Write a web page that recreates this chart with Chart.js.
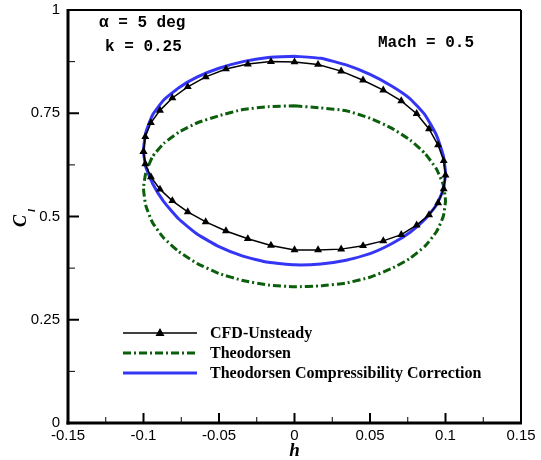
<!DOCTYPE html>
<html lang="en">
<head>
  <meta charset="UTF-8" />
  <title>Cl vs h</title>
  <script src="https://cdn.jsdelivr.net/npm/chart.js"></script>
  <style>
    body { margin: 0; background: #fff; }
    canvas { display: block; }
  </style>
</head>
<body>
  <canvas id="clChart" width="541" height="460"></canvas>

  <script>
    // axis ticks
    const xTicks = [-0.15, -0.1, -0.05, 0, 0.05, 0.1, 0.15];
    const xTickLabels = ['-0.15', '-0.1', '-0.05', '0', '0.05', '0.1', '0.15'];
    const xMinor = [-0.125, -0.075, -0.025, 0.025, 0.075, 0.125];
    const yTicks = [0, 0.25, 0.5, 0.75, 1];
    const yTickLabels = ['0', '0.25', '0.5', '0.75', '1'];
    const yMinor = [0.125, 0.375, 0.625, 0.875];

    // CFD-Unsteady (markers)
    const cfdH = [-0.1000, -0.0988, -0.0951, -0.0891, -0.0809, -0.0707, -0.0588, -0.0454, -0.0309, -0.0156,
                  0.0000, 0.0156, 0.0309, 0.0454, 0.0588, 0.0707, 0.0809, 0.0891, 0.0951, 0.0988,
                  0.1000, 0.0988, 0.0951, 0.0891, 0.0809, 0.0707, 0.0588, 0.0454, 0.0309, 0.0156,
                  0.0000, -0.0156, -0.0309, -0.0454, -0.0588, -0.0707, -0.0809, -0.0891, -0.0951, -0.0988,
                  -0.1000];
    const cfdCl = [0.657, 0.693, 0.727, 0.757, 0.787, 0.814, 0.838, 0.857, 0.869, 0.875,
                   0.874, 0.868, 0.852, 0.830, 0.806, 0.780, 0.749, 0.712, 0.673, 0.635,
                   0.600, 0.567, 0.533, 0.504, 0.479, 0.456, 0.441, 0.429, 0.421, 0.419,
                   0.419, 0.430, 0.446, 0.465, 0.487, 0.511, 0.538, 0.566, 0.596, 0.627,
                   0.657];

    // Theodorsen curves share the same h positions
    const loopH = [0, 0.0174, 0.0342, 0.05, 0.0643, 0.0766, 0.0866, 0.094, 0.0985, 0.1,
                   0.0985, 0.094, 0.0866, 0.0766, 0.0643, 0.05, 0.0342, 0.0174, 0,
                   -0.0174, -0.0342, -0.05, -0.0643, -0.0766, -0.0866, -0.094, -0.0985, -0.1,
                   -0.0985, -0.094, -0.0866, -0.0766, -0.0643, -0.05, -0.0342, -0.0174, 0];
    const theoCl = [0.768, 0.763, 0.756, 0.738, 0.714, 0.685, 0.652, 0.615, 0.577, 0.538,
                    0.500, 0.463, 0.429, 0.399, 0.374, 0.353, 0.339, 0.332, 0.330,
                    0.334, 0.345, 0.362, 0.386, 0.415, 0.448, 0.485, 0.527, 0.568,
                    0.605, 0.645, 0.677, 0.704, 0.727, 0.744, 0.759, 0.766, 0.768];
    const corrCl = [0.888, 0.883, 0.867, 0.844, 0.816, 0.785, 0.745, 0.697, 0.648, 0.605,
                    0.565, 0.528, 0.494, 0.462, 0.434, 0.410, 0.394, 0.385, 0.383,
                    0.389, 0.404, 0.427, 0.457, 0.494, 0.536, 0.580, 0.620, 0.660,
                    0.703, 0.746, 0.782, 0.812, 0.838, 0.859, 0.875, 0.885, 0.888];

    const seriesNames = ['CFD-Unsteady', 'Theodorsen', 'Theodorsen Compressibility Correction'];
    const notes = ['\u03b1 = 5 deg', 'k = 0.25', 'Mach = 0.5'];

    const BLUE = '#3535f5';
    const GREEN = '#0b5e0b';
    const DASHDOT = [8, 3, 2, 3];

    function toPoints(hs, cls) {
      return hs.map((h, i) => ({ x: h, y: cls[i] }));
    }

    function seg(ctx, x1, y1, x2, y2) {
      ctx.beginPath();
      ctx.moveTo(x1, y1);
      ctx.lineTo(x2, y2);
      ctx.stroke();
    }

    // frame, inward ticks, axis titles, notes and legend
    const decor = {
      id: 'decor',
      afterDraw(chart) {
        const ctx = chart.ctx;
        const a = chart.chartArea;
        const xs = chart.scales.x;
        const ys = chart.scales.y;
        ctx.save();
        ctx.strokeStyle = '#000';
        ctx.fillStyle = '#000';

        ctx.lineWidth = 2;
        xTicks.slice(1, -1).forEach(v => {
          const px = xs.getPixelForValue(v);
          seg(ctx, px, a.bottom, px, a.bottom - 10);
        });
        yTicks.slice(1, -1).forEach(v => {
          const py = ys.getPixelForValue(v);
          seg(ctx, a.left, py, a.left + 11, py);
        });
        ctx.lineWidth = 1;
        xMinor.forEach(v => {
          const px = xs.getPixelForValue(v);
          seg(ctx, px, a.bottom, px, a.bottom - 6);
        });
        yMinor.forEach(v => {
          const py = ys.getPixelForValue(v);
          seg(ctx, a.left, py, a.left + 7, py);
        });

        // frame
        ctx.lineWidth = 2;
        seg(ctx, a.left, a.top, a.right, a.top);
        seg(ctx, a.right, a.top, a.right, a.bottom);
        ctx.lineWidth = 3;
        seg(ctx, a.left, a.top - 1, a.left, a.bottom + 1.5);
        seg(ctx, a.left - 1.5, a.bottom, a.right + 1, a.bottom);

        // axis titles
        ctx.font = 'bold italic 19px "Liberation Serif"';
        ctx.textAlign = 'center';
        ctx.textBaseline = 'alphabetic';
        ctx.fillText('h', (a.left + a.right) / 2, 456);

        ctx.save();
        ctx.translate(26, 227);
        ctx.rotate(-Math.PI / 2);
        ctx.textAlign = 'left';
        ctx.font = 'bold italic 18px "Liberation Serif"';
        ctx.fillText('C', 0, 0);
        const cw = ctx.measureText('C').width;
        ctx.font = 'bold italic 11px "Liberation Serif"';
        ctx.fillText('l', cw + 3, 9);
        ctx.restore();

        // notes
        ctx.font = 'bold 16px "Liberation Mono"';
        ctx.textAlign = 'left';
        ctx.textBaseline = 'middle';
        ctx.fillText(notes[0], 99, 23);
        ctx.fillText(notes[1], 105, 47);
        ctx.fillText(notes[2], 378, 43);

        // legend
        const lx1 = 123, lx2 = 197, tx = 210;
        const rows = [333, 353, 373];
        ctx.font = 'bold 16px "Liberation Serif"';

        ctx.strokeStyle = '#000';
        ctx.lineWidth = 1.5;
        seg(ctx, lx1, rows[0], lx2, rows[0]);
        ctx.beginPath();
        ctx.moveTo(160, rows[0] - 5);
        ctx.lineTo(164.5, rows[0] + 3);
        ctx.lineTo(155.5, rows[0] + 3);
        ctx.closePath();
        ctx.fill();

        ctx.strokeStyle = GREEN;
        ctx.lineWidth = 3;
        ctx.setLineDash(DASHDOT);
        seg(ctx, lx1, rows[1], lx2, rows[1]);
        ctx.setLineDash([]);

        ctx.strokeStyle = BLUE;
        ctx.lineWidth = 3;
        seg(ctx, lx1, rows[2], lx2, rows[2]);

        ctx.fillStyle = '#000';
        seriesNames.forEach((name, i) => ctx.fillText(name, tx, rows[i] + 1));
        ctx.restore();
      }
    };

    const tickFont = { family: '"Liberation Sans", Arial, sans-serif', size: 15 };

    new Chart(document.getElementById('clChart').getContext('2d'), {
      type: 'scatter',
      data: {
        datasets: [
          {
            label: seriesNames[0],
            data: toPoints(cfdH, cfdCl),
            showLine: true,
            borderColor: '#000',
            borderWidth: 1.5,
            pointStyle: 'triangle',
            pointRadius: 4.6,
            pointBackgroundColor: '#000',
            pointBorderColor: '#000',
            pointBorderWidth: 0,
            tension: 0
          },
          {
            label: seriesNames[2],
            data: toPoints(loopH, corrCl),
            showLine: true,
            borderColor: BLUE,
            borderWidth: 3,
            pointRadius: 0,
            tension: 0.15
          },
          {
            label: seriesNames[1],
            data: toPoints(loopH, theoCl),
            showLine: true,
            borderColor: GREEN,
            borderWidth: 3,
            borderDash: DASHDOT,
            pointRadius: 0,
            tension: 0.15
          }
        ]
      },
      options: {
        responsive: false,
        animation: false,
        events: [],
        layout: { padding: { top: 10, right: 20, left: 0, bottom: 0 } },
        plugins: {
          legend: { display: false },
          tooltip: { enabled: false }
        },
        scales: {
          x: {
            type: 'linear',
            min: -0.15,
            max: 0.15,
            afterBuildTicks: s => { s.ticks = xTicks.map(v => ({ value: v })); },
            afterFit: s => { s.height = 37; s.paddingLeft = 0; s.paddingRight = 0; },
            grid: { display: false, drawTicks: false },
            border: { display: false },
            ticks: {
              autoSkip: false,
              maxRotation: 0,
              padding: 4,
              color: '#000',
              font: tickFont,
              callback: (v, i) => xTickLabels[i]
            }
          },
          y: {
            type: 'linear',
            min: 0,
            max: 1,
            afterBuildTicks: s => { s.ticks = yTicks.map(v => ({ value: v })); },
            afterFit: s => { s.width = 68; s.paddingTop = 0; s.paddingBottom = 0; },
            grid: { display: false, drawTicks: false },
            border: { display: false },
            ticks: {
              autoSkip: false,
              padding: 8,
              color: '#000',
              font: tickFont,
              callback: (v, i) => yTickLabels[i]
            }
          }
        }
      },
      plugins: [decor]
    });
  </script>
</body>
</html>
